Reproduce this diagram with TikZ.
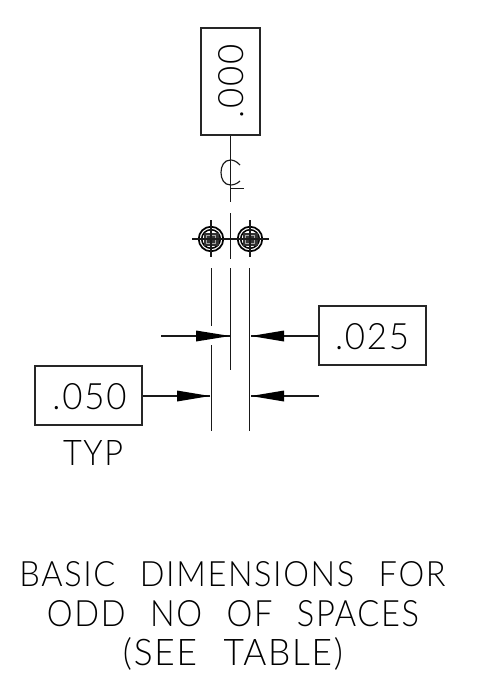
\documentclass[tikz,border=0pt]{standalone}
\usepackage{fontspec}
\setmainfont{Lato}[UprightFont=* Light]
\newcommand{\spaced}[1]{\addfontfeature{LetterSpace=5}#1}
\newcommand{\wgap}{\hspace{0.75em}}
\tikzset{
  valbox/.style={draw=black!85,line width=1.1bp,minimum width=#1,minimum height=59bp,inner sep=0pt},
  ln/.style={line width=1.15bp,black!90},
  tipfill/.style={fill=black,draw=none},
  lbl/.style={inner sep=0pt,outer sep=0pt,text=black,anchor=base}
}
\begin{document}
\begin{tikzpicture}[x=1bp,y=-1bp]
\useasboundingbox (0,0) rectangle (479,696);
\fill[white] (0,0) rectangle (479,696);
% refdes box
\node[valbox=59bp,minimum height=107bp] (top) at (230.5,81.5) {};
\node[lbl,rotate=90] (topt) at (243,81) {\resizebox{74bp}{25bp}{\spaced{.000}}};
% value boxes
\node[valbox=107bp] (b25) at (372.5,335.5) {};
\node[valbox=107bp] (b50) at (88.5,395.5) {};
\node[lbl] (t25) at (372,349) {\resizebox{74bp}{26bp}{\spaced{.025}}};
\node[lbl] (t50) at (89.5,409) {\resizebox{74bp}{26bp}{\spaced{.050}}};
\node[lbl] (typ) at (93,465) {\resizebox{60bp}{25bp}{\spaced{TYP}}};
% footer
\node[lbl] (f1) at (232.5,586) {\resizebox{426bp}{25bp}{\spaced{BASIC\wgap DIMENSIONS\wgap FOR}}};
\node[lbl] (f2) at (233,626) {\resizebox{372bp}{26bp}{\spaced{ODD\wgap NO\wgap OF\wgap SPACES}}};
\node[lbl] (f3) at (233,665) {\resizebox{220bp}{28bp}{\spaced{(SEE\wgap TABLE)}}};
% center line
\coordinate (c1) at (230.5,202);
\coordinate (c2) at (230.5,213);
\coordinate (c3) at (230.5,259);
\draw[ln] (top.south -| c1) -- (c1);
\draw[ln] (c2) -- (c3);
\draw[ln] (240,165) .. controls (236,160.5) and (232,160) .. (230.5,160)
  .. controls (224,160) and (221,166) .. (221,172.5)
  .. controls (221,179) and (224,185) .. (230.5,185)
  .. controls (233,185) and (237,184) .. (240,181);
\draw[ln] (230.5,188.5) -- (244,188.5);
% pads
\foreach \n/\x in {pa/211,pb/250}{
  \coordinate (\n) at (\x,239);
  \draw[line width=1.7bp,black] (\n) circle (12.3);
  \draw[line width=1.5bp,black] (\n) circle (9.3);
  \fill[black!80] (\x-7.5,232.5) rectangle (\x+7.5,245.5);
  \draw[line width=.8bp,black!35] (\x-4.5,235) rectangle (\x+4.5,243);
  \draw[line width=.8bp,black!45] (\x,235) -- (\x,243);
  \draw[ln] (\x,220) -- (\x,257);
}
\draw[ln] (192,239) -- (269,239);
% extension lines
\draw[ln,line width=1bp] (211.4,268) -- (211.4,326);
\draw[ln,line width=1bp] (211.4,345) -- (211.4,431);
\draw[ln] (230.6,268) -- (230.6,370);
\draw[ln,line width=1.25bp] (249.7,268) -- (249.7,431);
% dimension arrows
\coordinate (a1) at (161,336);
\coordinate (a2) at (230,336);
\coordinate (a3) at (251,336);
\coordinate (a4) at (210,396);
\coordinate (a5) at (251,396);
\coordinate (a6) at (319,396);
\draw[ln] (a1) -- (a2);
\fill[tipfill] (a2) -- ++(-34,-5.5) -- ++(0,11) -- cycle;
\draw[ln] (b25.west |- a3) -- (a3);
\fill[tipfill] (a3) -- ++(33,-5.5) -- ++(0,11) -- cycle;
\draw[ln] (b50.east |- a4) -- (a4);
\fill[tipfill] (a4) -- ++(-33,-5.5) -- ++(0,11) -- cycle;
\draw[ln] (a6) -- (a5);
\fill[tipfill] (a5) -- ++(33,-5.5) -- ++(0,11) -- cycle;
\end{tikzpicture}
\end{document}
